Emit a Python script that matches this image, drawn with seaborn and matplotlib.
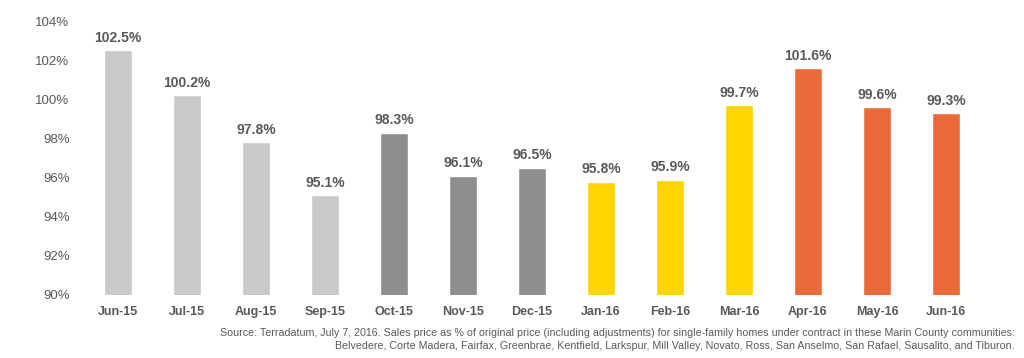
import matplotlib
matplotlib.use('Agg')
import matplotlib.pyplot as plt
import seaborn as sns
import pandas as pd

months = ['Jun-15', 'Jul-15', 'Aug-15', 'Sep-15', 'Oct-15', 'Nov-15', 'Dec-15',
          'Jan-16', 'Feb-16', 'Mar-16', 'Apr-16', 'May-16', 'Jun-16']
pct = [102.5, 100.2, 97.8, 95.1, 98.3, 96.1, 96.5, 95.8, 95.9, 99.7, 101.6, 99.6, 99.3]
colors = ['#C9C9C9'] * 4 + ['#8E8E8E'] * 3 + ['#FFD400'] * 3 + ['#EC6A39'] * 3
yticks = [90, 92, 94, 96, 98, 100, 102, 104]

source = ("Source: Terradatum, July 7, 2016. Sales price as % of original price (including adjustments) "
          "for single-family homes under contract in these Marin County communities:\n"
          "Belvedere, Corte Madera, Fairfax, Greenbrae, Kentfield, Larkspur, Mill Valley, Novato, Ross, "
          "San Anselmo, San Rafael, Sausalito, and Tiburon.")

sns.set_theme(style='white')
plt.rcParams['font.family'] = ['Liberation Sans', 'DejaVu Sans']
TXT = '#595959'

df = pd.DataFrame({'month': months, 'pct': pct})

fig = plt.figure(figsize=(10.24, 3.58), dpi=100)
ax = fig.add_axes([0.0815, 0.176, 0.876, 0.765])
sns.barplot(data=df, x='month', y='pct', hue='month', palette=colors,
            width=0.41, legend=False, ax=ax, saturation=1)

ax.set_ylim(90, 104)
ax.set_xlim(-0.5, len(months) - 0.5)
ax.set_yticks(yticks)
ax.set_yticklabels([f'{t}%' for t in yticks], color=TXT, fontsize=9.5)
ax.set_xticks(range(len(months)))
ax.set_xticklabels(months, color=TXT, fontsize=9, fontweight='bold')
ax.tick_params(axis='x', pad=8, length=0)
ax.tick_params(axis='y', pad=10, length=0)
ax.set_xlabel('')
ax.set_ylabel('')
for s in ax.spines.values():
    s.set_visible(False)

for i, v in enumerate(pct):
    ax.annotate(f'{v}%', (i, v), xytext=(0, 4), textcoords='offset points',
                ha='center', va='bottom', color=TXT, fontsize=10, fontweight='bold')

fig.text(0.991, 0.02, source, ha='right', va='bottom', color=TXT, fontsize=7.65,
         linespacing=1.35, multialignment='right')

fig.savefig('out.png', dpi=100)
